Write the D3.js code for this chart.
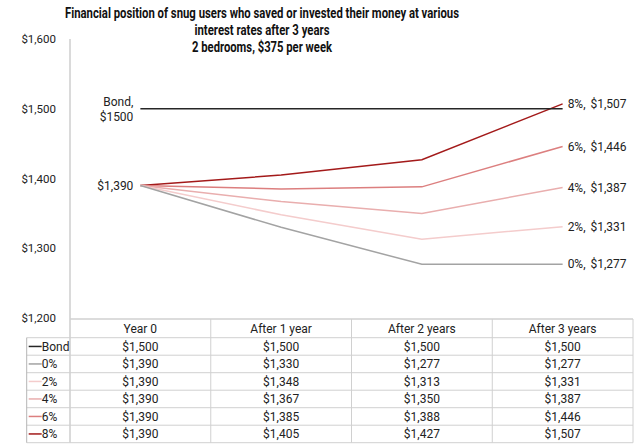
<!DOCTYPE html>
<html>
<head>
<meta charset="utf-8">
<script src="https://cdn.jsdelivr.net/npm/d3@7"></script>
<style>
  body { margin: 0; background: #fff; }
  text { font-family: Roboto, "Open Sans", sans-serif; fill: #222; }
</style>
</head>
<body>
<svg id="chart" width="640" height="446"></svg>
<script>
// data
const periods = ['Year 0', 'After 1 year', 'After 2 years', 'After 3 years'];
const seriesNames = ['Bond', '0%', '2%', '4%', '6%', '8%'];
const bond = [1500, 1500, 1500, 1500];
const rate0 = [1390, 1330, 1277, 1277];
const rate2 = [1390, 1348, 1313, 1331];
const rate4 = [1390, 1367, 1350, 1387];
const rate6 = [1390, 1385, 1388, 1446];
const rate8 = [1390, 1405, 1427, 1507];
const yTicks = [1200, 1300, 1400, 1500, 1600];
const colors = ['#262626', '#a3a3a3', '#f4cccc', '#e9aeae', '#dc7f7f', '#a31a1a'];

const series = seriesNames.map((name, i) => ({
  name: name,
  values: [bond, rate0, rate2, rate4, rate6, rate8][i],
  color: colors[i],
}));

const svg = d3.select('#chart');
const fmt = d3.format('$,');

const plot = { left: 70, right: 633, top: 39, bottom: 318 };
const table = { top: 319, header: 18.7, row: 17.5, labelLeft: 26.7 };

const x = d3.scaleBand()
  .domain(periods)
  .range([plot.left, plot.right])
  .padding(0);

const y = d3.scaleLinear()
  .domain([1200, 1600])
  .range([plot.bottom, plot.top]);

const cx = (p) => x(p) + x.bandwidth() / 2;

// title
const titleLines = [
  ['Financial position of snug users who saved or invested their money at various', 394],
  ['interest rates after 3 years', 135],
  ['2 bedrooms, $375 per week', 140],
];
svg.append('g')
  .selectAll('text')
  .data(titleLines)
  .enter()
  .append('text')
  .attr('x', 262)
  .attr('y', (d, i) => 18 + i * 17)
  .attr('text-anchor', 'middle')
  .attr('textLength', (d) => d[1])
  .attr('lengthAdjust', 'spacingAndGlyphs')
  .style('font-size', '14px')
  .style('font-weight', 'bold')
  .style('fill', '#111')
  .text((d) => d[0]);

// y axis
const yAxis = svg.append('g')
  .attr('transform', `translate(${plot.left},0)`)
  .call(d3.axisLeft(y).tickValues(yTicks).tickFormat(fmt).tickSize(0).tickPadding(14));
yAxis.select('.domain').remove();
yAxis.selectAll('text')
  .style('font-size', '11.5px')
  .style('font-family', 'Roboto, sans-serif')
  .attr('fill', '#222');

const tableBottom = table.top + table.header + table.row * series.length;

// vertical axis line runs through the table
svg.append('line')
  .attr('x1', plot.left).attr('x2', plot.left)
  .attr('y1', plot.top).attr('y2', tableBottom)
  .attr('stroke', '#b5b5b5');

// lines
const line = d3.line()
  .x((d, i) => cx(periods[i]))
  .y((d) => y(d));

svg.append('g')
  .selectAll('path')
  .data(series.slice().reverse())
  .enter()
  .append('path')
  .attr('d', (d) => line(d.values))
  .attr('fill', 'none')
  .attr('stroke', (d) => d.color)
  .attr('stroke-width', 1.5);

// start labels
const first = periods[0];
const startLabel = svg.append('text')
  .attr('x', cx(first) - 7)
  .attr('y', y(bond[0]) - 7)
  .attr('text-anchor', 'end')
  .style('font-size', '12px');
startLabel.append('tspan').attr('x', cx(first) - 7).attr('dy', '0.35em').text('Bond,');
startLabel.append('tspan').attr('x', cx(first) - 7).attr('dy', '15').text('$' + bond[0]);

svg.append('text')
  .attr('x', cx(first) - 7)
  .attr('y', y(rate0[0]))
  .attr('dy', '0.35em')
  .attr('text-anchor', 'end')
  .style('font-size', '12px')
  .text(fmt(rate0[0]));

// end labels for rate series
const last = periods[periods.length - 1];
svg.append('g')
  .selectAll('text')
  .data(series.slice(1))
  .enter()
  .append('text')
  .attr('x', cx(last) + 5)
  .attr('y', (d) => y(d.values[3]))
  .attr('dy', '0.35em')
  .style('font-size', '12px')
  .style('word-spacing', '2px')
  .text((d) => `${d.name}, ${fmt(d.values[3])}`);

// data table
const grid = svg.append('g').attr('stroke', '#d0d0d0').attr('stroke-width', 1);

grid.append('line')
  .attr('x1', plot.left).attr('x2', plot.right)
  .attr('y1', table.top).attr('y2', table.top)
  .attr('stroke-width', 1.5);

d3.range(series.length + 1).forEach((i) => {
  const yy = table.top + table.header + i * table.row;
  grid.append('line')
    .attr('x1', table.labelLeft).attr('x2', plot.right)
    .attr('y1', yy).attr('y2', yy);
});

periods.slice(1).forEach((p) => {
  grid.append('line')
    .attr('x1', x(p)).attr('x2', x(p))
    .attr('y1', table.top).attr('y2', tableBottom);
});

grid.append('line')
  .attr('x1', plot.right).attr('x2', plot.right)
  .attr('y1', table.top).attr('y2', tableBottom);

grid.append('line')
  .attr('x1', table.labelLeft).attr('x2', table.labelLeft)
  .attr('y1', table.top + table.header).attr('y2', tableBottom)
  .attr('stroke', '#b5b5b5');

// header
svg.append('g')
  .selectAll('text')
  .data(periods)
  .enter()
  .append('text')
  .attr('x', (d) => cx(d))
  .attr('y', table.top + table.header / 2)
  .attr('dy', '0.35em')
  .attr('text-anchor', 'middle')
  .style('font-size', '12px')
  .text((d) => d);

// rows
const rows = svg.append('g')
  .selectAll('g')
  .data(series)
  .enter()
  .append('g')
  .attr('transform', (d, i) => `translate(0,${table.top + table.header + (i + 0.5) * table.row})`);

rows.append('line')
  .attr('x1', table.labelLeft + 2).attr('x2', table.labelLeft + 15)
  .attr('y1', 0).attr('y2', 0)
  .attr('stroke', (d) => d.color)
  .attr('stroke-width', 1.5);

rows.append('text')
  .attr('x', table.labelLeft + 15)
  .attr('dy', '0.35em')
  .style('font-size', '12px')
  .text((d) => d.name);

rows.selectAll('text.val')
  .data((d) => d.values)
  .enter()
  .append('text')
  .attr('class', 'val')
  .attr('x', (d, i) => cx(periods[i]))
  .attr('dy', '0.35em')
  .attr('text-anchor', 'middle')
  .style('font-size', '12px')
  .text((d) => fmt(d));
</script>
</body>
</html>
